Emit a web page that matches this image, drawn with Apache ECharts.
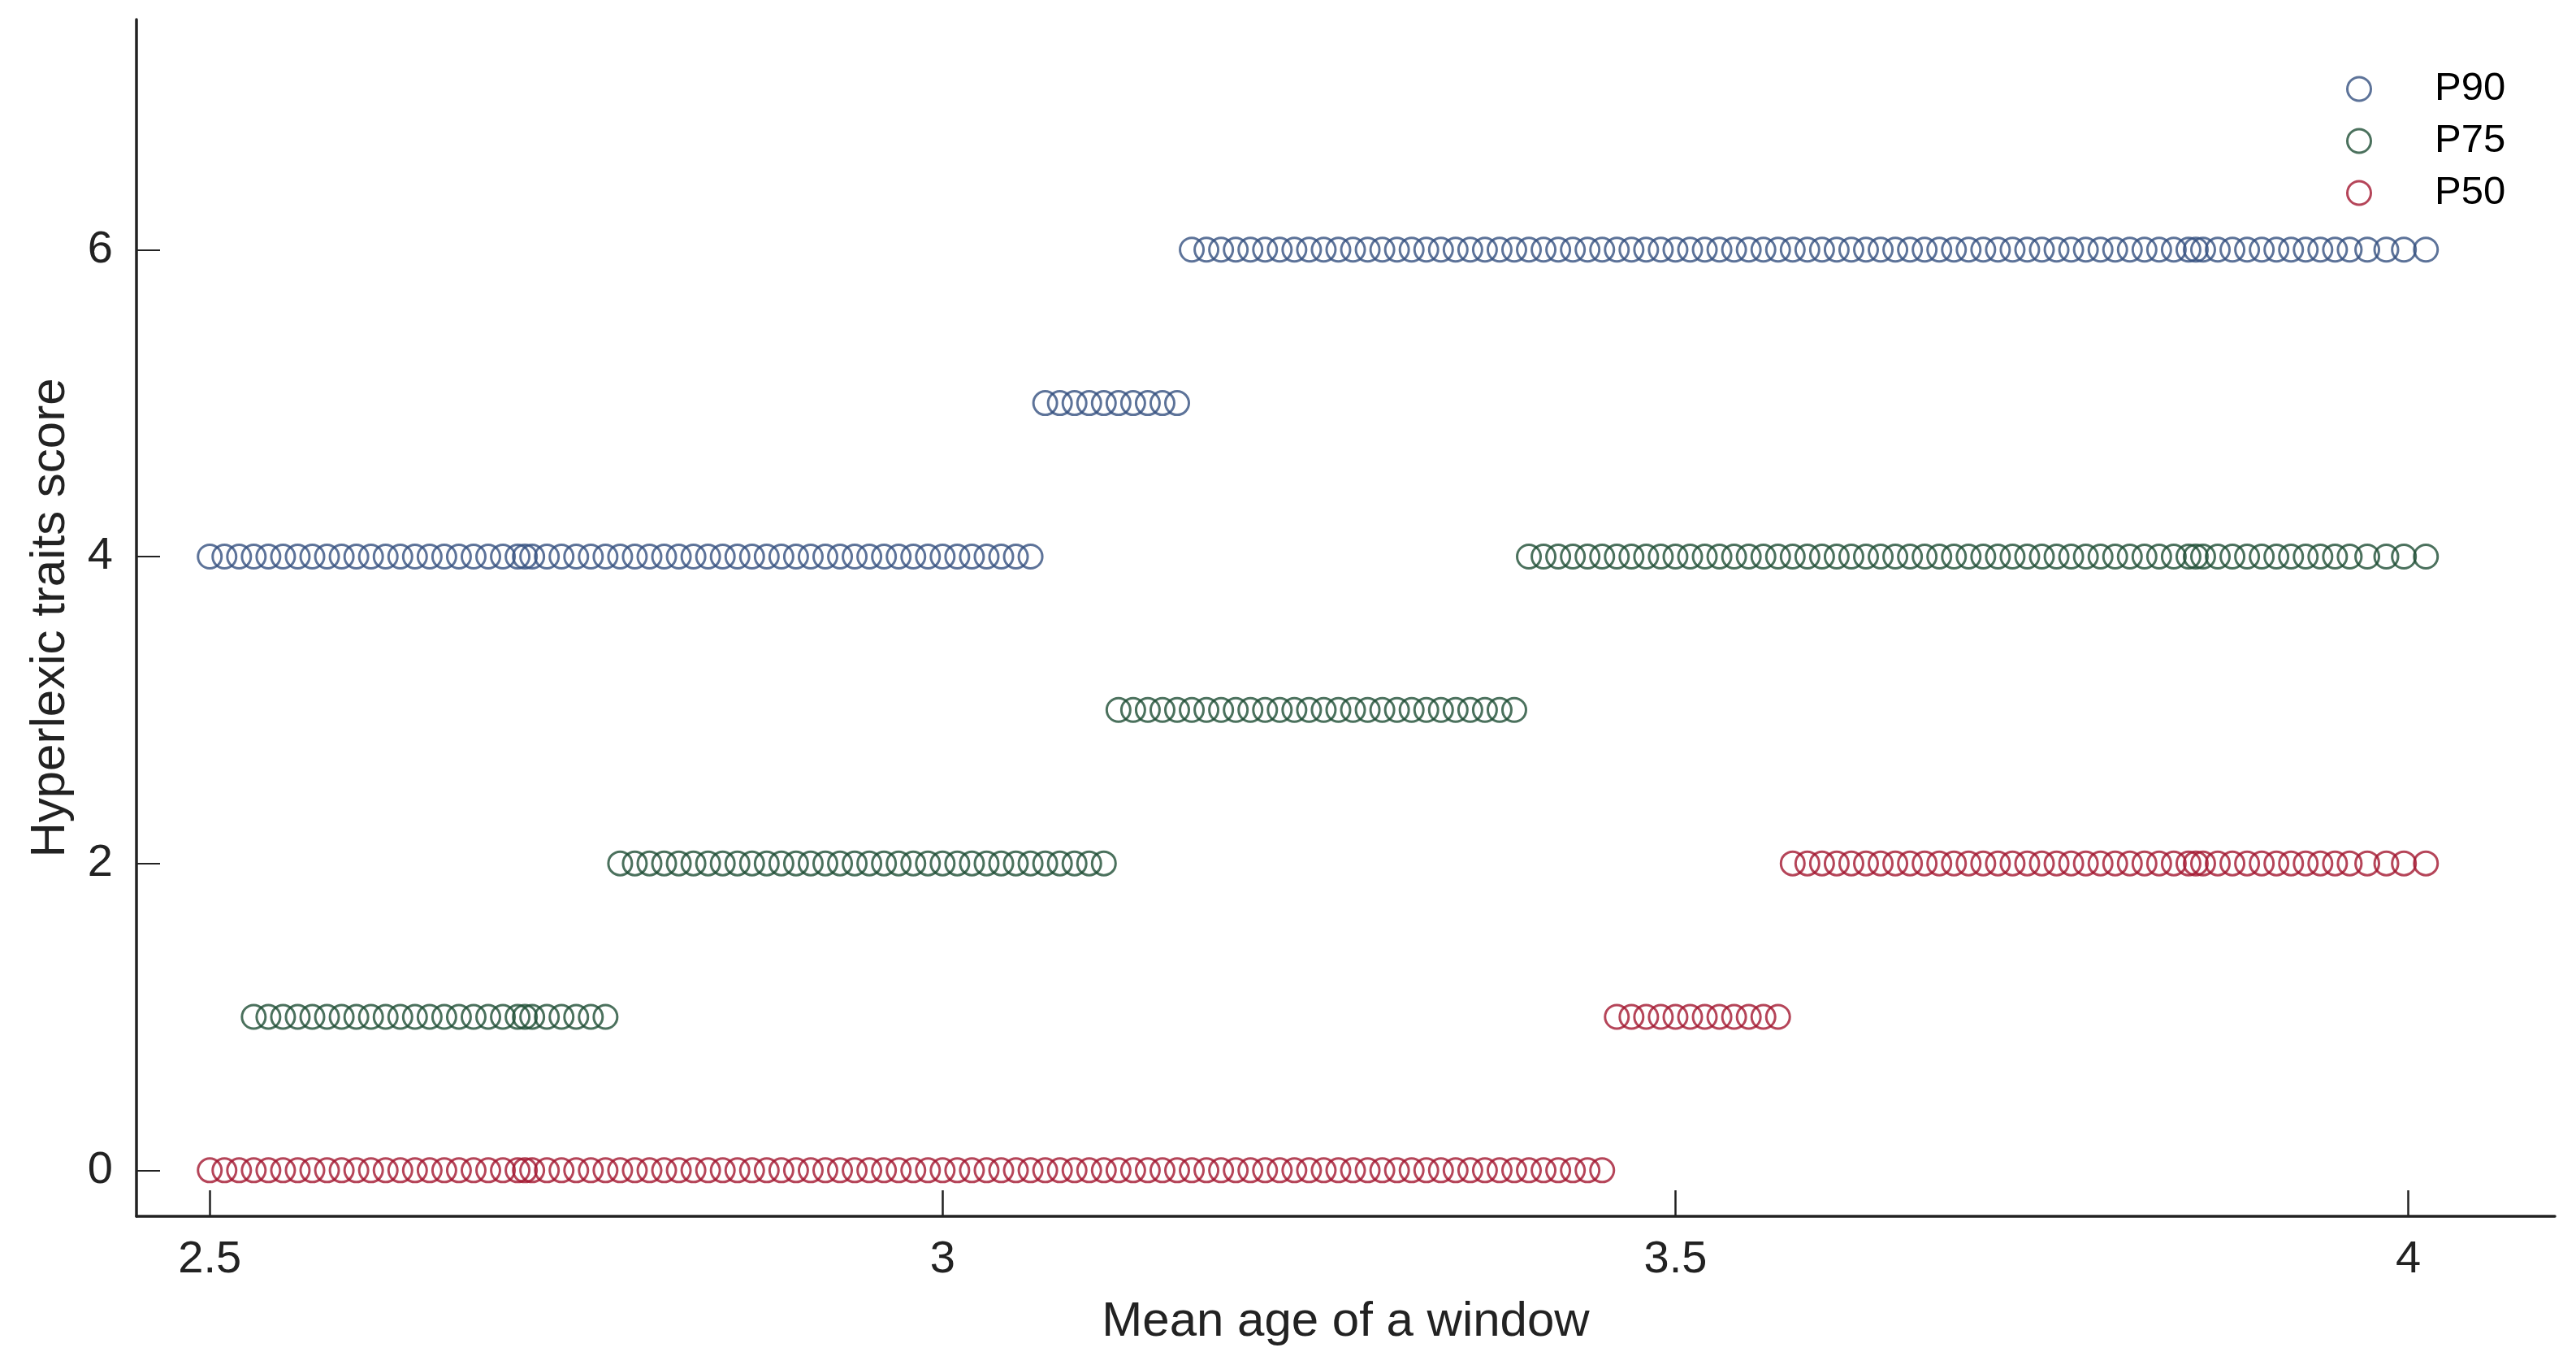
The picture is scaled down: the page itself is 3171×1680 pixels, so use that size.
<!DOCTYPE html>
<html>
<head>
<meta charset="utf-8">
<script src="https://cdn.jsdelivr.net/npm/echarts@6/dist/echarts.min.js"></script>
<style>
html, body { margin: 0; padding: 0; background: #ffffff; }
#chart { width: 3171px; height: 1680px; }
</style>
</head>
<body>
<div id="chart"></div>
<script>
// Mean age of each sliding window (x values)
const windowAges = [
  2.50, 2.51, 2.52, 2.53, 2.54, 2.55, 2.56, 2.57, 2.58, 2.59,
  2.60, 2.61, 2.62, 2.63, 2.64, 2.65, 2.66, 2.67, 2.68, 2.69,
  2.70, 2.71, 2.715, 2.72, 2.73, 2.74, 2.75, 2.76, 2.77, 2.78,
  2.79, 2.80, 2.81, 2.82, 2.83, 2.84, 2.85, 2.86, 2.87, 2.88,
  2.89, 2.90, 2.91, 2.92, 2.93, 2.94, 2.95, 2.96, 2.97, 2.98,
  2.99, 3.00, 3.01, 3.02, 3.03, 3.04, 3.05, 3.06, 3.07, 3.08,
  3.09, 3.10, 3.11, 3.12, 3.13, 3.14, 3.15, 3.16, 3.17, 3.18,
  3.19, 3.20, 3.21, 3.22, 3.23, 3.24, 3.25, 3.26, 3.27, 3.28,
  3.29, 3.30, 3.31, 3.32, 3.33, 3.34, 3.35, 3.36, 3.37, 3.38,
  3.39, 3.40, 3.41, 3.42, 3.43, 3.44, 3.45, 3.46, 3.47, 3.48,
  3.49, 3.50, 3.51, 3.52, 3.53, 3.54, 3.55, 3.56, 3.57, 3.58,
  3.59, 3.60, 3.61, 3.62, 3.63, 3.64, 3.65, 3.66, 3.67, 3.68,
  3.69, 3.70, 3.71, 3.72, 3.73, 3.74, 3.75, 3.76, 3.77, 3.78,
  3.79, 3.80, 3.81, 3.82, 3.83, 3.84, 3.85, 3.855, 3.86, 3.87,
  3.88, 3.89, 3.90, 3.91, 3.92, 3.93, 3.94, 3.95, 3.96, 3.972,
  3.985, 3.997, 4.012
];

// Hyperlexic traits score per window, for each percentile
const p90Scores = [
  4, 4, 4, 4, 4, 4, 4, 4, 4, 4,
  4, 4, 4, 4, 4, 4, 4, 4, 4, 4,
  4, 4, 4, 4, 4, 4, 4, 4, 4, 4,
  4, 4, 4, 4, 4, 4, 4, 4, 4, 4,
  4, 4, 4, 4, 4, 4, 4, 4, 4, 4,
  4, 4, 4, 4, 4, 4, 4, 4, 5, 5,
  5, 5, 5, 5, 5, 5, 5, 5, 6, 6,
  6, 6, 6, 6, 6, 6, 6, 6, 6, 6,
  6, 6, 6, 6, 6, 6, 6, 6, 6, 6,
  6, 6, 6, 6, 6, 6, 6, 6, 6, 6,
  6, 6, 6, 6, 6, 6, 6, 6, 6, 6,
  6, 6, 6, 6, 6, 6, 6, 6, 6, 6,
  6, 6, 6, 6, 6, 6, 6, 6, 6, 6,
  6, 6, 6, 6, 6, 6, 6, 6, 6, 6,
  6, 6, 6, 6, 6, 6, 6, 6, 6, 6,
  6, 6, 6
];
const p75Scores = [
  null, null, null, 1, 1, 1, 1, 1, 1, 1,
  1, 1, 1, 1, 1, 1, 1, 1, 1, 1,
  1, 1, 1, 1, 1, 1, 1, 1, 1, 2,
  2, 2, 2, 2, 2, 2, 2, 2, 2, 2,
  2, 2, 2, 2, 2, 2, 2, 2, 2, 2,
  2, 2, 2, 2, 2, 2, 2, 2, 2, 2,
  2, 2, 2, 3, 3, 3, 3, 3, 3, 3,
  3, 3, 3, 3, 3, 3, 3, 3, 3, 3,
  3, 3, 3, 3, 3, 3, 3, 3, 3, 3,
  3, 4, 4, 4, 4, 4, 4, 4, 4, 4,
  4, 4, 4, 4, 4, 4, 4, 4, 4, 4,
  4, 4, 4, 4, 4, 4, 4, 4, 4, 4,
  4, 4, 4, 4, 4, 4, 4, 4, 4, 4,
  4, 4, 4, 4, 4, 4, 4, 4, 4, 4,
  4, 4, 4, 4, 4, 4, 4, 4, 4, 4,
  4, 4, 4
];
const p50Scores = [
  0, 0, 0, 0, 0, 0, 0, 0, 0, 0,
  0, 0, 0, 0, 0, 0, 0, 0, 0, 0,
  0, 0, 0, 0, 0, 0, 0, 0, 0, 0,
  0, 0, 0, 0, 0, 0, 0, 0, 0, 0,
  0, 0, 0, 0, 0, 0, 0, 0, 0, 0,
  0, 0, 0, 0, 0, 0, 0, 0, 0, 0,
  0, 0, 0, 0, 0, 0, 0, 0, 0, 0,
  0, 0, 0, 0, 0, 0, 0, 0, 0, 0,
  0, 0, 0, 0, 0, 0, 0, 0, 0, 0,
  0, 0, 0, 0, 0, 0, 0, 1, 1, 1,
  1, 1, 1, 1, 1, 1, 1, 1, 1, 2,
  2, 2, 2, 2, 2, 2, 2, 2, 2, 2,
  2, 2, 2, 2, 2, 2, 2, 2, 2, 2,
  2, 2, 2, 2, 2, 2, 2, 2, 2, 2,
  2, 2, 2, 2, 2, 2, 2, 2, 2, 2,
  2, 2, 2
];

const seriesNames = ['P90', 'P75', 'P50'];
const xTickValues = [2.5, 3, 3.5, 4];
const yTickValues = [0, 2, 4, 6];
const xAxisTitle = 'Mean age of a window';
const yAxisTitle = 'Hyperlexic traits score';

const colors = { P90: '#34507F', P75: '#1E4E34', P50: '#A3172F' };
const FONT = '"Liberation Sans", Arial, Helvetica, sans-serif';

function pairs(scores) {
  const out = [];
  for (let i = 0; i < windowAges.length; i++) {
    if (scores[i] !== null && scores[i] !== undefined) out.push([windowAges[i], scores[i]]);
  }
  return out;
}
const scoreSets = { P90: p90Scores, P75: p75Scores, P50: p50Scores };

const chart = echarts.init(document.getElementById('chart'), null, { renderer: 'canvas' });
const SYM = 29;

const option = {
  animation: false,
  backgroundColor: '#ffffff',
  textStyle: { fontFamily: FONT },
  grid: { left: 168, right: 26, top: 24, bottom: 183, containLabel: false },
  legend: {
    orient: 'vertical',
    left: 2883,
    top: 80,
    itemWidth: 176,
    itemHeight: SYM,
    itemGap: 15,
    icon: 'circle',
    textStyle: { fontFamily: FONT, fontSize: 49, color: '#000000', lineHeight: 48 },
    data: seriesNames.map(n => ({
      name: n,
      itemStyle: { color: 'rgba(0,0,0,0)', borderColor: colors[n], borderWidth: 3 }
    }))
  },
  xAxis: {
    type: 'value',
    min: 2.45,
    max: 4.1,
    name: xAxisTitle,
    nameLocation: 'middle',
    nameGap: 100,
    nameTextStyle: { fontFamily: FONT, fontSize: 60, color: '#222222' },
    axisLine: { show: true, onZero: false, lineStyle: { color: '#222222', width: 3.5 } },
    axisTick: { show: true, inside: true, length: 32, customValues: xTickValues, lineStyle: { color: '#222222', width: 2.5 } },
    axisLabel: { show: true, customValues: xTickValues, margin: 26, fontFamily: FONT, fontSize: 56, color: '#222222' },
    splitLine: { show: false }
  },
  yAxis: {
    type: 'value',
    min: -0.3,
    max: 7.5,
    name: yAxisTitle,
    nameLocation: 'middle',
    nameGap: 76,
    nameRotate: 90,
    nameTextStyle: { fontFamily: FONT, fontSize: 60, color: '#222222' },
    axisLine: { show: true, onZero: false, lineStyle: { color: '#222222', width: 3.5 } },
    axisTick: { show: true, inside: true, length: 29, customValues: yTickValues, lineStyle: { color: '#222222', width: 2 } },
    axisLabel: { show: true, customValues: yTickValues, margin: 29, fontFamily: FONT, fontSize: 56, color: '#222222' },
    splitLine: { show: false }
  },
  series: seriesNames.map(n => ({
    name: n,
    type: 'scatter',
    symbol: 'circle',
    symbolSize: SYM,
    data: pairs(scoreSets[n]),
    itemStyle: { color: 'rgba(0,0,0,0)', borderColor: colors[n], borderWidth: 3 },
    emphasis: { disabled: true }
  }))
};
chart.setOption(option);
</script>
</body>
</html>
